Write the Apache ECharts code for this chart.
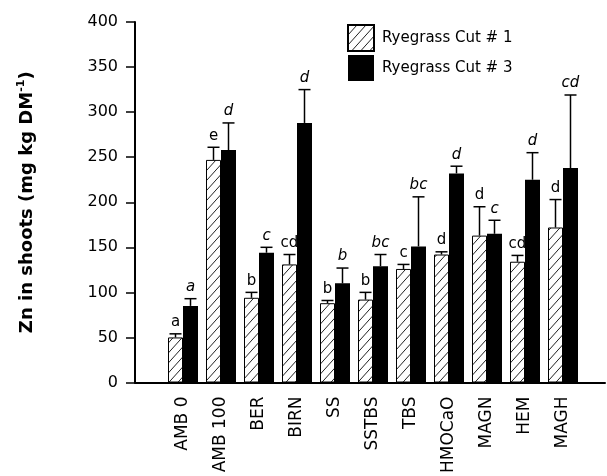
<!DOCTYPE html>
<html>
<head>
<meta charset="utf-8">
<script src="https://cdn.jsdelivr.net/npm/echarts@6/dist/echarts.min.js"></script>
<style>
html,body{margin:0;padding:0;background:#fff;}
#chart{width:607px;height:476px;}
</style>
</head>
<body>
<div id="chart"></div>
<script>
// ---- data ----
var categories = ['AMB 0','AMB 100','BER','BIRN','SS','SSTBS','TBS','HMOCaO','MAGN','HEM','MAGH'];
var cut1 = [50, 247, 94, 131, 88, 92, 126, 142, 163, 134, 172];
var cut1Err = [4, 14, 6, 11, 3, 8, 5, 3, 32, 7, 31];
var cut3 = [85, 258, 144, 288, 110, 129, 151, 232, 165, 225, 238];
var cut3Err = [8, 30, 6, 37, 17, 13, 55, 8, 15, 30, 81];
var cut1Letters = ['a','e','b','cd','b','b','c','d','d','cd','d'];
var cut3Letters = ['a','d','c','d','b','bc','bc','d','c','d','cd'];
var yTicks = [0, 50, 100, 150, 200, 250, 300, 350, 400];
var seriesNames = ['Ryegrass Cut # 1', 'Ryegrass Cut # 3'];

// ---- styles ----
var BAR_W = 15;
var CAP = 12;
var FONT = 'DejaVu Sans';

function hatch() {
  var c = document.createElement('canvas');
  c.width = 9; c.height = 10;
  var g = c.getContext('2d');
  g.fillStyle = '#fff';
  g.fillRect(0, 0, 9, 10);
  g.strokeStyle = '#222';
  g.lineWidth = 1;
  g.beginPath();
  g.moveTo(0, 10); g.lineTo(9, 0);
  g.moveTo(-1, 1.1); g.lineTo(1, -1.1);
  g.moveTo(8, 11.1); g.lineTo(10, 8.9);
  g.stroke();
  return c;
}
var hatchCanvas = hatch();

function errSeries(vals, errs, letters, side, italic) {
  return {
    type: 'custom',
    xAxisIndex: 0, yAxisIndex: 0,
    z: 5,
    silent: true,
    data: vals.map(function (v, i) { return [i, v, v + errs[i]]; }),
    renderItem: function (params, api) {
      var i = api.value(0);
      var base = api.coord([i, api.value(1)]);
      var top = api.coord([i, api.value(2)]);
      var x = base[0] + side * BAR_W / 2;
      var ls = { stroke: '#000', lineWidth: 1.5 };
      return {
        type: 'group',
        children: [
          { type: 'line', shape: { x1: x, y1: base[1], x2: x, y2: top[1] }, style: ls },
          { type: 'line', shape: { x1: x - CAP / 2, y1: top[1], x2: x + CAP / 2, y2: top[1] }, style: ls },
          { type: 'text', style: {
              text: letters[params.dataIndex], x: x, y: top[1] - 4,
              textAlign: 'center', textVerticalAlign: 'bottom', textBaseline: 'bottom',
              font: (italic ? 'italic ' : '') + '15px "' + FONT + '"', fill: '#000'
          } }
        ]
      };
    }
  };
}

var chart = echarts.init(document.getElementById('chart'), null, { renderer: 'canvas' });
chart.setOption({
  animation: false,
  backgroundColor: '#fff',
  legend: {
    data: seriesNames,
    orient: 'vertical',
    left: 342, top: 19,
    itemWidth: 26, itemHeight: 26, itemGap: 3,
    icon: 'rect',
    textStyle: { fontFamily: FONT, fontSize: 15, color: '#000', padding: [0, 0, 0, 3] }
  },
  grid: [
    { left: 164, right: 25, top: 22, bottom: 93 },
    { left: 135, right: 2, top: 22, bottom: 93 }
  ],
  xAxis: [
    {
      type: 'category', gridIndex: 0, data: categories,
      axisLine: { show: false }, axisTick: { show: false },
      axisLabel: { rotate: 90, interval: 0, margin: 14, fontFamily: FONT, fontSize: 17, color: '#000' }
    },
    {
      type: 'value', gridIndex: 1, min: 0, max: 1,
      axisLine: { show: true, lineStyle: { color: '#000', width: 2 } },
      axisTick: { show: false }, axisLabel: { show: false }, splitLine: { show: false }
    }
  ],
  yAxis: [
    {
      type: 'value', gridIndex: 0, min: yTicks[0], max: yTicks[yTicks.length - 1], interval: 50,
      offset: 29,
      name: '{a|Zn in shoots (mg kg DM}{s|-1}{a|)}',
      nameLocation: 'middle', nameRotate: 90, nameGap: 99,
      nameTextStyle: {
        padding: [0, 0, 0, 0],
        rich: {
          a: { fontFamily: FONT, fontWeight: 'bold', fontSize: 18, color: '#000', lineHeight: 20, verticalAlign: 'bottom' },
          s: { fontFamily: FONT, fontWeight: 'bold', fontSize: 11, color: '#000', lineHeight: 20, verticalAlign: 'top' }
        }
      },
      axisLine: { show: true, lineStyle: { color: '#000', width: 2 } },
      axisTick: { show: true, length: 9, lineStyle: { color: '#000', width: 1.5 } },
      axisLabel: { margin: 17, fontFamily: FONT, fontSize: 16, color: '#000' },
      splitLine: { show: false }
    },
    { type: 'value', gridIndex: 1, min: 0, max: 1, show: false }
  ],
  series: [
    {
      name: seriesNames[0], type: 'bar', xAxisIndex: 0, yAxisIndex: 0,
      data: cut1, barWidth: BAR_W, barGap: '0%',
      itemStyle: { color: { image: hatchCanvas, repeat: 'repeat' }, borderColor: '#000', borderWidth: 1 }
    },
    {
      name: seriesNames[1], type: 'bar', xAxisIndex: 0, yAxisIndex: 0,
      data: cut3, barWidth: BAR_W, barGap: '0%',
      itemStyle: { color: '#000' }
    },
    errSeries(cut1, cut1Err, cut1Letters, -1, false),
    errSeries(cut3, cut3Err, cut3Letters, 1, true)
  ]
});
</script>
</body>
</html>
